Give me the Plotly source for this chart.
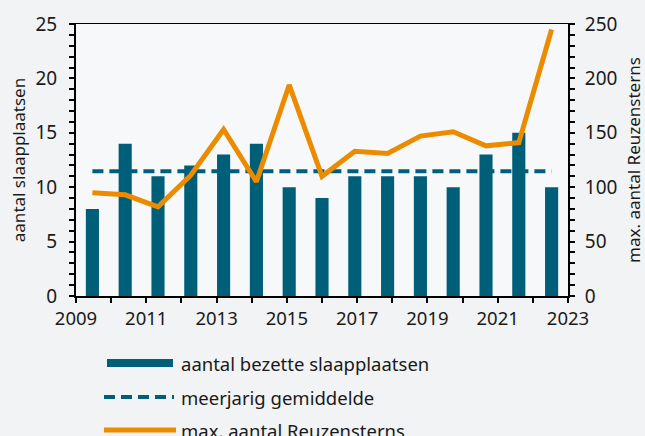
import plotly.graph_objects as go

years = list(range(2009, 2024))
slaapplaatsen = [8, 14, 11, 12, 13, 14, 10, 9, 11, 11, 11, 10, 13, 15, 10]
reuzensterns = [95, 93, 82, 111, 153, 105, 194, 110, 133, 131, 147, 151, 138, 141, 245]
gemiddelde = sum(slaapplaatsen) / len(slaapplaatsen)

x_tick_years = list(range(2009, 2024))
x_tick_text = [str(y) if (y - 2009) % 2 == 0 else "" for y in x_tick_years]
y1_ticks = list(range(0, 26))
y1_text = [str(v) if v % 5 == 0 else "" for v in y1_ticks]
y2_ticks = list(range(0, 251, 10))
y2_text = [str(v) if v % 50 == 0 else "" for v in y2_ticks]

TEAL = "#005f78"
ORANGE = "#eb8c00"
FONT = "Noto Sans"

idx = list(range(len(years)))

fig = go.Figure()
fig.add_trace(go.Bar(x=idx, y=slaapplaatsen, width=0.4, marker=dict(color=TEAL, line=dict(width=0)),
                     xaxis="x", yaxis="y", showlegend=False, name="aantal bezette slaapplaatsen"))
fig.add_trace(go.Scatter(x=[idx[0], idx[-1]], y=[gemiddelde, gemiddelde], mode="lines",
                         line=dict(color=TEAL, width=4, dash="11px,6px"),
                         xaxis="x", yaxis="y", showlegend=False, name="meerjarig gemiddelde"))
fig.add_trace(go.Scatter(x=idx, y=reuzensterns, mode="lines",
                         line=dict(color=ORANGE, width=5),
                         xaxis="x", yaxis="y2", showlegend=False, name="max. aantal Reuzensterns"))
# dummy trace to activate xaxis2
fig.add_trace(go.Scatter(x=[2009, 2023], y=[None, None], xaxis="x2", yaxis="y", showlegend=False,
                         hoverinfo="skip", mode="lines"))

W0, H0, L, T, B = 492, 272, 76, 24, 296
def px(x):
    return (x - L) / W0
def py(y):
    return (B - y) / H0

legend_items = [
    ("aantal bezette slaapplaatsen", TEAL, 8, "solid", 107, 173, 363),
    ("meerjarig gemiddelde", TEAL, 4, "11px,6px", 104, 174, 397),
    ("max. aantal Reuzensterns", ORANGE, 5, "solid", 104, 176, 430),
]
for label, col, w, dash, x0, x1, yy in legend_items:
    fig.add_shape(type="line", xref="paper", yref="paper", x0=px(x0), x1=px(x1), y0=py(yy), y1=py(yy),
                  line=dict(color=col, width=w, dash=dash))
    fig.add_annotation(xref="paper", yref="paper", x=px(179), y=py(yy), text=label, showarrow=False,
                       xanchor="left", yanchor="middle", font=dict(family=FONT, size=18.5, color="#1a1a1a"))

fig.update_layout(
    width=645, height=436,
    margin=dict(l=76, r=77, t=24, b=140, autoexpand=False),
    paper_bgcolor="#f1f3f4",
    plot_bgcolor="#f7f8f9",
    font=dict(family=FONT, size=18, color="#1a1a1a"),
    xaxis=dict(range=[-0.5, len(years) - 0.5], side="top", showline=True, linecolor="black", linewidth=1,
               showticklabels=False, ticks="", showgrid=False, zeroline=False, automargin=False),
    xaxis2=dict(range=[2009, 2023], overlaying="x", side="bottom", anchor="y",
                tickmode="array", tickvals=x_tick_years, ticktext=x_tick_text,
                ticks="outside", ticklen=5, tickwidth=2, tickcolor="black",
                showline=True, linecolor="black", linewidth=2, showgrid=False, zeroline=False,
                tickfont=dict(size=18.5), automargin=False),
    yaxis=dict(range=[0, 25], tickmode="array", tickvals=y1_ticks, ticktext=y1_text,
               ticks="outside", ticklen=5, tickwidth=2, tickcolor="black",
               showline=True, linecolor="black", linewidth=2, showgrid=False, zeroline=False,
               tickfont=dict(size=19), automargin=False, ticklabelstandoff=8,
               title=dict(text="aantal slaapplaatsen", font=dict(size=17), standoff=6)),
    yaxis2=dict(range=[0, 250], overlaying="y", side="right", anchor="x",
                tickmode="array", tickvals=y2_ticks, ticktext=y2_text,
                ticks="outside", ticklen=5, tickwidth=2, tickcolor="black",
                showline=True, linecolor="black", linewidth=2, showgrid=False, zeroline=False,
                tickfont=dict(size=19), automargin=False, ticklabelstandoff=6,
                title=dict(text="max. aantal Reuzensterns", font=dict(size=17), standoff=12)),
)

fig.write_html("out.html", post_script="document.body.style.margin='0';",
               config={"displayModeBar": False})
